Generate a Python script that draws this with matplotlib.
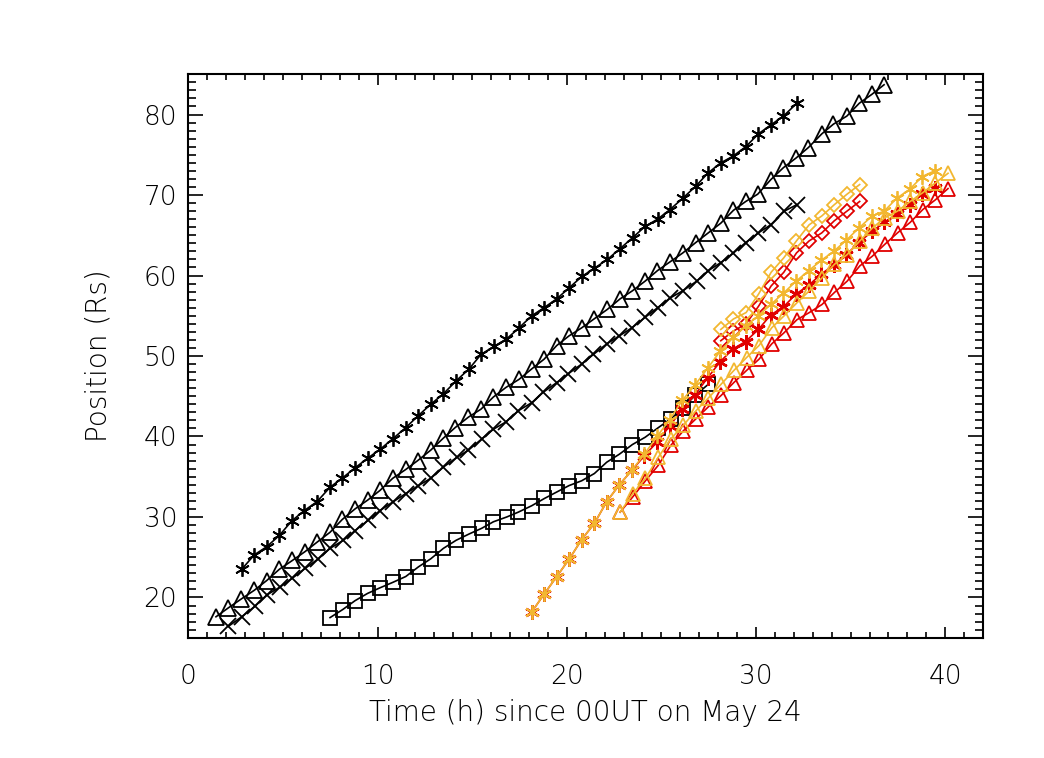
import matplotlib
matplotlib.use("Agg")
import matplotlib.pyplot as plt

plt.rcParams['font.family'] = ['DejaVu Sans']
plt.rcParams['font.weight'] = 'light'
plt.rcParams['axes.labelweight'] = 'light'

# black asterisks
t_ast = [2.82, 3.49, 4.14, 4.81, 5.46, 6.13, 6.80, 7.49, 8.12, 8.81, 9.48, 10.13, 10.80, 11.49, 12.16,
         12.81, 13.48, 14.15, 14.84, 15.47, 16.16, 16.81, 17.48, 18.15, 18.80, 19.47, 20.14, 20.81, 21.46,
         22.15, 22.80, 23.48, 24.14, 24.80, 25.46, 26.13, 26.82, 27.45, 28.14, 28.77, 29.46, 30.13, 30.78,
         31.45, 32.16]
r_ast = [23.5, 25.3, 26.3, 27.7, 29.5, 30.8, 31.9, 33.7, 34.8, 36.1, 37.3, 38.4, 39.7, 41.1, 42.6,
         44.0, 45.3, 46.9, 48.4, 50.2, 51.2, 52.1, 53.5, 55.0, 56.0, 57.1, 58.5, 59.9, 60.9,
         62.0, 63.3, 64.7, 66.1, 67.0, 68.2, 69.6, 71.1, 72.7, 74.0, 74.8, 76.0, 77.6, 78.7,
         79.8, 81.4]

# black triangles
t_tri = [1.46, 2.11, 2.79, 3.49, 4.14, 4.81, 5.50, 6.17, 6.82, 7.49, 8.14, 8.81, 9.48, 10.13, 10.80,
         11.49, 12.12, 12.81, 13.48, 14.10, 14.80, 15.47, 16.12, 16.79, 17.48, 18.15, 18.80, 19.47, 20.12,
         20.79, 21.44, 22.15, 22.82, 23.47, 24.14, 24.79, 25.46, 26.13, 26.82, 27.48, 28.14, 28.81, 29.46,
         30.09, 30.78, 31.45, 32.12, 32.77, 33.48, 34.09, 34.80, 35.46, 36.12, 36.77]
r_tri = [17.6, 18.7, 19.8, 20.9, 22.1, 23.5, 24.6, 25.7, 26.9, 28.1, 29.7, 31.0, 32.1, 33.3, 34.8,
         35.9, 37.0, 38.3, 39.8, 41.1, 42.4, 43.4, 44.9, 46.1, 47.1, 48.4, 49.6, 51.3, 52.5,
         53.5, 54.6, 55.8, 57.1, 58.1, 59.3, 60.6, 61.7, 62.8, 64.1, 65.3, 66.5, 68.1, 69.2,
         70.1, 71.9, 73.4, 74.6, 75.9, 77.6, 78.8, 79.8, 81.4, 82.5, 83.7]

# black crosses
t_x = [2.11, 2.82, 3.52, 4.14, 4.85, 5.50, 6.17, 6.87, 7.49, 8.19, 8.81, 9.51, 10.13, 10.83, 11.49,
       12.16, 12.81, 13.48, 14.19, 14.80, 15.51, 16.12, 16.78, 17.44, 18.15, 18.76, 19.47, 20.08, 20.79,
       21.41, 22.11, 22.78, 23.44, 24.14, 24.80, 25.46, 26.13, 26.87, 27.48, 28.14, 28.81, 29.46, 30.13,
       30.78, 31.50, 32.16]
r_x = [16.4, 17.6, 18.9, 20.3, 21.3, 22.4, 23.6, 24.8, 26.1, 27.1, 28.3, 29.6, 30.8, 31.9, 32.9,
       33.9, 34.8, 36.2, 37.4, 38.3, 39.7, 40.9, 41.8, 43.2, 44.2, 45.5, 46.7, 47.8, 49.0,
       50.2, 51.5, 52.5, 53.5, 54.8, 56.0, 57.2, 58.1, 59.3, 60.6, 61.6, 62.8, 64.1, 65.3,
       66.3, 68.0, 68.8]

# black squares
t_sq = [7.49, 8.16, 8.81, 9.47, 10.13, 10.83, 11.49, 12.16, 12.81, 13.48, 14.15, 14.85, 15.51, 16.12,
        16.83, 17.44, 18.15, 18.82, 19.47, 20.12, 20.79, 21.46, 22.11, 22.78, 23.47, 24.14, 24.84, 25.50,
        26.13, 26.78, 27.49]
r_sq = [17.5, 18.5, 19.6, 20.5, 21.2, 21.9, 22.6, 23.8, 24.8, 26.1, 27.1, 27.9, 28.6, 29.4,
        30.0, 30.6, 31.4, 32.3, 33.1, 33.9, 34.5, 35.4, 36.8, 37.8, 39.0, 39.9, 41.1, 42.2,
        43.5, 45.1, 46.5]

# coloured asterisks (red and orange share times)
t_cast = [18.15, 18.80, 19.47, 20.14, 20.79, 21.46, 22.11, 22.78, 23.44, 24.10, 24.77, 25.44, 26.11,
          26.78, 27.45, 28.11, 28.80, 29.45, 30.13, 30.78, 31.45, 32.12, 32.79, 33.46, 34.11, 34.78,
          35.44, 36.14, 36.78, 37.44, 38.12, 38.79, 39.44]
r_ast_red = [18.2, 20.4, 22.6, 24.8, 27.2, 29.2, 31.9, 34.0, 35.8, 37.6, 39.3, 41.3, 43.4,
             45.2, 47.3, 49.3, 50.9, 51.8, 53.3, 55.1, 56.1, 57.7, 58.8, 60.2, 61.3, 62.6,
             64.1, 65.5, 66.6, 67.6, 68.8, 70.1, 70.9]
r_ast_org = [18.2, 20.4, 22.6, 24.8, 27.2, 29.2, 31.9, 34.0, 35.8, 37.8, 40.0, 42.1, 44.5,
             46.4, 48.5, 50.6, 52.3, 53.7, 55.0, 56.4, 57.8, 59.3, 60.6, 61.9, 63.0, 64.4,
             65.9, 67.4, 68.0, 69.6, 70.7, 72.3, 73.0]

# coloured triangles
t_ctri = [22.82, 23.49, 24.16, 24.83, 25.50, 26.16, 26.83, 27.49, 28.16, 28.83, 29.50, 30.16, 30.83,
          31.49, 32.16, 32.82, 33.49, 34.15, 34.82, 35.49, 36.15, 36.82, 37.48, 38.15, 38.82, 39.48, 40.15]
r_tri_red = [30.6, 32.5, 34.5, 36.4, 38.9, 40.7, 42.2, 43.7, 45.1, 46.7, 48.2, 49.6, 51.5,
             52.9, 54.5, 55.4, 56.4, 57.9, 59.3, 61.2, 62.4, 63.9, 65.3, 66.6, 68.2, 69.4, 70.8]
r_tri_org = [30.6, 32.9, 34.8, 37.4, 39.7, 41.4, 43.2, 44.8, 46.5, 48.2, 49.8, 51.3, 53.5,
             55.0, 56.6, 58.1, 59.7, 61.4, 62.6, 64.3, 65.9, 67.2, 68.0, 69.2, 70.3, 71.5, 72.7]

# coloured diamonds
t_dia = [28.14, 28.81, 29.48, 30.14, 30.80, 31.47, 32.14, 32.81, 33.48, 34.14, 34.81, 35.48]
r_dia_red = [51.9, 53.1, 54.0, 56.2, 58.7, 60.4, 62.8, 64.3, 65.3, 66.8, 68.0, 69.2]
r_dia_org = [53.3, 54.6, 55.4, 57.7, 60.4, 62.2, 64.3, 66.3, 67.4, 68.8, 70.1, 71.3]

RED = '#e00000'
ORANGE = '#f2b730'
ASTER = (6, 2, 0)

fig = plt.figure(figsize=(10.44, 7.58), dpi=100)
ax = fig.add_axes([0.1804, 0.1587, 0.7612, 0.7433])

lw = 1.2
mew = 1.3
ax.plot(t_ast, r_ast, color='k', lw=lw, marker=ASTER, ms=10.5, mew=mew)
ax.plot(t_tri, r_tri, color='k', lw=lw, marker='^', ms=11, mew=mew, mfc='none')
ax.plot(t_x, r_x, color='k', lw=lw, marker='x', ms=11, mew=mew)
ax.plot(t_sq, r_sq, color='k', lw=lw, marker='s', ms=10, mew=mew, mfc='none')

ax.plot(t_cast, r_ast_red, color=RED, lw=lw, marker=ASTER, ms=10.5, mew=mew + 0.5)
ax.plot(t_ctri, r_tri_red, color=RED, lw=lw, marker='^', ms=10.5, mew=mew, mfc='none')
ax.plot(t_dia, r_dia_red, color=RED, lw=lw, marker='D', ms=7.5, mew=mew, mfc='none')
ax.plot(t_cast, r_ast_org, color=ORANGE, lw=lw, marker=ASTER, ms=10.5, mew=mew)
ax.plot(t_ctri, r_tri_org, color=ORANGE, lw=lw, marker='^', ms=10.5, mew=mew, mfc='none')
ax.plot(t_dia, r_dia_org, color=ORANGE, lw=lw, marker='D', ms=7.5, mew=mew, mfc='none')

ax.set_xlim(0, 42)
ax.set_ylim(15, 85)
ax.set_xticks([0, 10, 20, 30, 40])
ax.set_yticks([20, 30, 40, 50, 60, 70, 80])
ax.set_xticks(range(0, 43), minor=True)
ax.set_yticks(range(15, 86), minor=True)

for s in ax.spines.values():
    s.set_linewidth(1.5)
ax.tick_params(axis='both', which='both', direction='in', top=True, right=True, width=1.2)
ax.tick_params(axis='x', which='major', length=8, pad=19, labelsize=19)
ax.tick_params(axis='x', which='minor', length=4)
ax.tick_params(axis='y', which='major', length=11, pad=8, labelsize=19)
ax.tick_params(axis='y', which='minor', length=5.5)

ax.set_xlabel('Time (h) since 00UT on May 24', fontsize=20, fontweight='light')
ax.set_ylabel('Position (Rs)', fontsize=20, fontweight='light')
ax.xaxis.set_label_coords(0.5, -0.134)
ax.xaxis.label.set_va('center')
ax.yaxis.set_label_coords(-0.1136, 0.5)
ax.yaxis.label.set_va('center')

fig.savefig('out.png', dpi=100)
